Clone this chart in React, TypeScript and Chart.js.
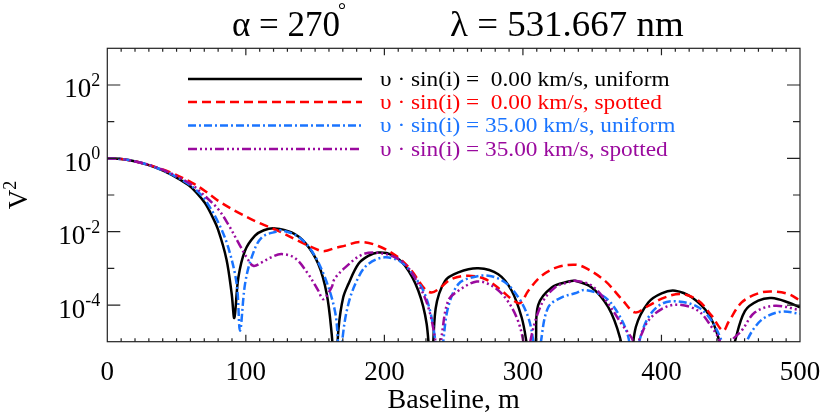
import { useEffect, useRef } from "react";
import { Chart, registerables } from "chart.js";

Chart.register(...registerables);

const FONT = '"Liberation Serif", "Times New Roman", Times, serif';

const titleLeft = "α = 270";
const titleDegree = "°";
const titleRight = "λ = 531.667 nm";
const xAxisTitle = "Baseline, m";
const yAxisTitle = "V";
const yAxisTitleSup = "2";

const xTickValues = [0, 100, 200, 300, 400, 500];
const yLabelExponents = [-4, -2, 0, 2];
const yTickExponents = [-4, -3, -2, -1, 0, 1, 2];

const legendLabels = [
  "υ · sin(i) =  0.00 km/s, uniform",
  "υ · sin(i) =  0.00 km/s, spotted",
  "υ · sin(i) = 35.00 km/s, uniform",
  "υ · sin(i) = 35.00 km/s, spotted",
];
const seriesColors = ["#000000", "#ff0000", "#1a74ff", "#9a0a9e"];
const seriesDashes = [[], [9, 5], [8, 3, 2, 3], [9, 3, 2, 3, 2, 3, 2, 3]];

// v sin i = 0, uniform  (baseline m, log10 V^2)
const uniformSlowB = [
  0, 10, 22, 35, 46.5, 58.5, 64.5, 70.5, 75.3, 80, 86, 89.8, 91.7, 94.6, 99.4,
  106.6, 113, 121, 133, 142.7, 152.3, 158.4, 162, 164.5, 167, 170.3, 174, 181.2,
  188.4, 195.6, 205.3, 214.9, 224.5, 230.5, 234, 237, 243.8, 253.4, 267.8, 282.2,
  291.9, 299.1, 302.5, 306, 309.3, 311, 320.8, 332.8, 337.6, 349.6, 361.6, 370,
  376, 381.5, 390.5, 400.1, 409.8, 421.8, 433.8, 441, 447, 453, 460.3, 469.9,
  479.6, 491.6, 500,
];
const uniformSlowLogV2 = [
  0, -0.02, -0.1, -0.25, -0.45, -0.73, -0.94, -1.22, -1.55, -1.95, -2.75, -3.7,
  -4.35, -3.25, -2.52, -2.11, -1.96, -1.91, -2.02, -2.3, -2.88, -3.7, -4.8, -6,
  -4.6, -3.79, -3.43, -2.88, -2.66, -2.57, -2.63, -2.93, -3.61, -4.51, -6, -4.1,
  -3.34, -3.11, -3.0, -3.16, -3.61, -4.34, -5, -6, -5, -4.0, -3.52, -3.36, -3.34,
  -3.52, -4.06, -4.88, -6, -4.6, -3.93, -3.68, -3.61, -3.79, -4.24, -4.88, -6,
  -5, -4.16, -3.88, -3.81, -3.93, -4.06,
];

// v sin i = 0, spotted
const spottedSlowB = [
  0, 10, 22, 35, 46.5, 60.9, 70.5, 80.1, 94.6, 109, 123.4, 137.9, 152.3, 157.1,
  164, 171.6, 182.4, 195.6, 210, 219.7, 229.3, 234.1, 238.9, 248.6, 260.6, 272.6,
  284.7, 291.9, 297.9, 303.9, 313.5, 325.5, 337.6, 344.8, 359.2, 371.3, 380.9,
  390.5, 402.6, 414.6, 426.6, 436.2, 444.5, 448.3, 457.9, 469.9, 479.6, 491.6, 500,
];
const spottedSlowLogV2 = [
  0, -0.02, -0.1, -0.24, -0.4, -0.66, -0.89, -1.16, -1.48, -1.75, -1.98, -2.25,
  -2.5, -2.53, -2.45, -2.38, -2.28, -2.39, -2.7, -3.07, -3.57, -3.66, -3.57,
  -3.29, -3.2, -3.29, -3.61, -3.84, -3.95, -3.61, -3.2, -2.96, -2.9, -2.98, -3.34,
  -3.84, -4.2, -4.02, -3.79, -3.7, -3.88, -4.29, -4.7, -4.47, -3.93, -3.68, -3.63,
  -3.7, -3.88,
];

// v sin i = 35, uniform
const uniformFastB = [
  0, 10, 22, 35, 46.5, 58.5, 65.7, 70.5, 80.1, 87.3, 93.4, 95.8, 99.4, 104.2,
  111.4, 123.4, 125.8, 137.9, 147.5, 157.1, 164.3, 166.5, 168, 169.5, 174, 181.2,
  188.4, 200.4, 212.5, 222.1, 228.1, 233, 236.5, 240, 242.5, 246.1, 253.4, 263,
  275, 287, 296.7, 303.9, 307.5, 310, 313, 318.3, 328, 337.6, 344.8, 359.2, 368.9,
  376.1, 380, 384, 390.5, 400.1, 412.1, 426.6, 436.2, 443.6, 452, 461.5, 467.5,
  474.7, 486.8, 500,
];
const uniformFastLogV2 = [
  0, -0.02, -0.1, -0.25, -0.44, -0.7, -0.92, -1.12, -1.75, -2.43, -3.43, -4.7,
  -3.43, -2.7, -2.16, -1.98, -1.96, -2.14, -2.52, -3.25, -4.16, -5, -6, -5,
  -3.97, -3.25, -2.88, -2.7, -2.84, -3.25, -3.61, -4.16, -4.9, -6, -5, -4.05,
  -3.43, -3.25, -3.2, -3.38, -3.79, -4.34, -5, -6, -5, -4.06, -3.79, -3.68, -3.59,
  -3.79, -4.24, -4.88, -6, -5, -4.34, -3.97, -3.9, -4.06, -4.43, -5, -6, -5, -4.6,
  -4.34, -4.18, -4.24,
];

// v sin i = 35, spotted
const spottedFastB = [
  0, 10, 22, 35, 46.5, 60.9, 70.5, 80.1, 87.3, 94.6, 100.6, 105.4, 111.4, 118.7,
  125.8, 135.5, 145.1, 152.3, 155.9, 161.9, 164, 171.6, 183.6, 193.2, 205.3,
  214.9, 224.5, 231.7, 236.5, 239, 241.5, 246.1, 253.4, 266.7, 277.5, 287, 295.5,
  300.3, 302.8, 305.3, 313.5, 323.1, 332.8, 337.6, 349.6, 361.6, 371.3, 378.6,
  381.5, 385, 390.5, 400.1, 412.1, 426.6, 436.2, 442.2, 446, 450.7, 457.9, 467.5,
  481.9, 500,
];
const spottedFastLogV2 = [
  0, -0.02, -0.1, -0.24, -0.42, -0.72, -1.03, -1.39, -1.8, -2.3, -2.7, -2.93,
  -2.84, -2.69, -2.61, -2.72, -3.16, -3.61, -3.84, -3.52, -3.29, -2.98, -2.63,
  -2.57, -2.66, -2.88, -3.43, -4.06, -4.9, -5.6, -4.8, -3.88, -3.61, -3.36, -3.47,
  -3.79, -4.34, -5, -6, -5, -3.97, -3.52, -3.38, -3.34, -3.47, -3.97, -4.52, -4.9,
  -5.15, -4.85, -4.43, -4.11, -3.99, -4.16, -4.6, -5, -6, -5, -4.7, -4.2, -4.02,
  -4.14,
];

const seriesB = [uniformSlowB, spottedSlowB, uniformFastB, spottedFastB];
const seriesLog = [uniformSlowLogV2, spottedSlowLogV2, uniformFastLogV2, spottedFastLogV2];

const decorPlugin = {
  id: "decor",
  afterDraw(chart: any) {
    const ctx: CanvasRenderingContext2D = chart.ctx;
    const { left, right, top, bottom } = chart.chartArea;
    const xs = chart.scales.x;
    const ys = chart.scales.y;
    ctx.save();

    // frame
    ctx.strokeStyle = "#222";
    ctx.lineWidth = 1.2;
    ctx.setLineDash([]);
    ctx.strokeRect(left, top, right - left, bottom - top);

    // y ticks (inward, both sides)
    ctx.beginPath();
    for (const e of yTickExponents) {
      const y = ys.getPixelForValue(Math.pow(10, e));
      const len = e % 2 === 0 ? 13 : 7;
      ctx.moveTo(left, y);
      ctx.lineTo(left + len, y);
      ctx.moveTo(right, y);
      ctx.lineTo(right - len, y);
    }
    // x ticks
    for (let v = 10; v < 500; v += 10) {
      const x = xs.getPixelForValue(v);
      const len = v % 100 === 0 ? 7 : 3.5;
      ctx.moveTo(x, bottom);
      ctx.lineTo(x, bottom - len);
      ctx.moveTo(x, top);
      ctx.lineTo(x, top + len);
    }
    ctx.stroke();

    ctx.fillStyle = "#000";
    // x tick labels
    ctx.font = `27px ${FONT}`;
    ctx.textAlign = "center";
    ctx.textBaseline = "alphabetic";
    for (const v of xTickValues) {
      ctx.fillText(String(v), xs.getPixelForValue(v), bottom + 38.5);
    }
    // x title
    ctx.font = `28px ${FONT}`;
    ctx.fillText(xAxisTitle, (left + right) / 2, 408);

    // y tick labels 10^e
    for (const e of yLabelExponents) {
      const y = ys.getPixelForValue(Math.pow(10, e));
      const sup = e < 0 ? "-" + String(-e) : String(e);
      ctx.font = `18px ${FONT}`;
      ctx.textAlign = "right";
      const supW = ctx.measureText(sup).width;
      ctx.fillText(sup, left - 7, y + 1);
      ctx.font = `27px ${FONT}`;
      ctx.fillText("10", left - 7 - supW, y + 12.5);
    }

    // y title
    ctx.save();
    ctx.translate(27, 195);
    ctx.rotate(-Math.PI / 2);
    ctx.font = `27px ${FONT}`;
    const vW = ctx.measureText(yAxisTitle).width;
    ctx.font = `18px ${FONT}`;
    const sW = ctx.measureText(yAxisTitleSup).width;
    const total = vW + sW;
    ctx.textAlign = "left";
    ctx.font = `27px ${FONT}`;
    ctx.fillText(yAxisTitle, -total / 2, 0);
    ctx.font = `18px ${FONT}`;
    ctx.fillText(yAxisTitleSup, -total / 2 + vW, -11);
    ctx.restore();

    // title
    ctx.textAlign = "left";
    ctx.font = `35px ${FONT}`;
    ctx.fillText(titleLeft, 232, 36);
    const tW = ctx.measureText(titleLeft).width;
    ctx.font = `20px ${FONT}`;
    ctx.fillText(titleDegree, 232 + tW - 2, 17);
    ctx.save();
    ctx.translate(450, 36);
    ctx.scale(1.055, 1);
    ctx.font = `35px ${FONT}`;
    ctx.fillText(titleRight, 0, 0);
    ctx.restore();

    // legend
    const rows = [79, 102, 125.5, 149];
    for (let i = 0; i < 4; i++) {
      const y = rows[i];
      ctx.strokeStyle = seriesColors[i];
      ctx.lineWidth = 2.5;
      ctx.setLineDash(seriesDashes[i]);
      ctx.beginPath();
      ctx.moveTo(188, y);
      ctx.lineTo(362, y);
      ctx.stroke();
      ctx.setLineDash([]);
      ctx.save();
      ctx.translate(380, y + 1);
      ctx.scale(1.06, 1);
      ctx.fillStyle = seriesColors[i];
      ctx.font = `22px ${FONT}`;
      ctx.textAlign = "left";
      ctx.textBaseline = "middle";
      ctx.fillText(legendLabels[i], 0, 0);
      ctx.restore();
    }
    ctx.restore();
  },
};

export default function App() {
  const ref = useRef<HTMLCanvasElement | null>(null);
  useEffect(() => {
    if (!ref.current) return;
    const datasets = seriesB.map((bs, i) => ({
      label: legendLabels[i],
      data: bs.map((b, j) => ({ x: b, y: Math.pow(10, seriesLog[i][j]) })),
      borderColor: seriesColors[i],
      borderDash: seriesDashes[i],
      borderWidth: 2.5,
      borderCapStyle: "butt" as const,
      borderJoinStyle: "round" as const,
      pointRadius: 0,
      fill: false,
      tension: 0.35,
      order: 4 - i,
    }));
    const chart = new Chart(ref.current, {
      type: "line",
      data: { datasets },
      options: {
        animation: false,
        responsive: false,
        devicePixelRatio: 1,
        layout: { padding: { left: 107.3, top: 48.3, right: 30, bottom: 73.3 } },
        scales: {
          x: { type: "linear", min: 0, max: 500, display: false },
          y: { type: "logarithmic", min: 1e-5, max: 1e3, display: false },
        },
        plugins: {
          legend: { display: false },
          tooltip: { enabled: false },
          title: { display: false },
        },
      },
      plugins: [decorPlugin],
    });
    return () => chart.destroy();
  }, []);
  return (
    <div style={{ position: "absolute", left: 0, top: 0, width: 830, height: 415, background: "#fff" }}>
      <canvas ref={ref} width={830} height={415} />
    </div>
  );
}
